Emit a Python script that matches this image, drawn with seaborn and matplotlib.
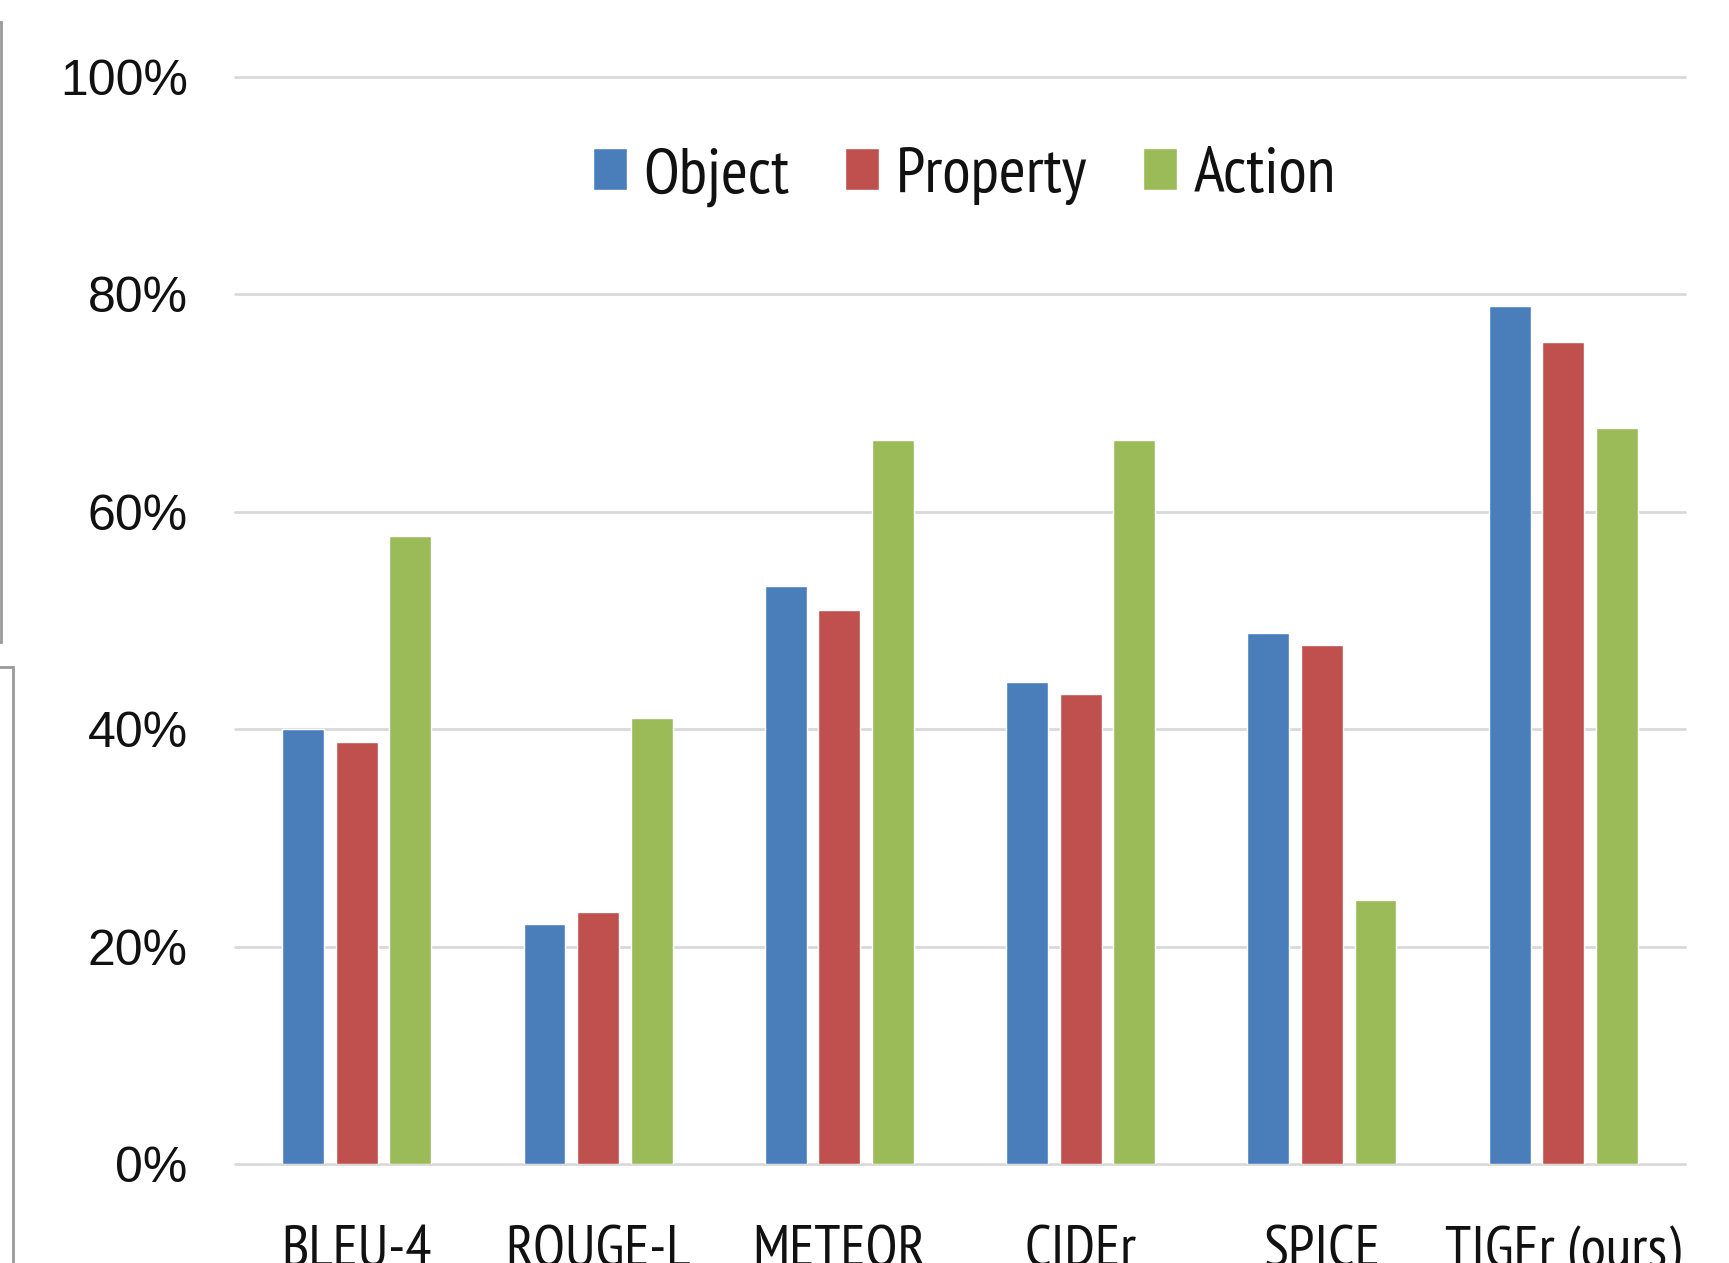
import matplotlib
matplotlib.use("Agg")
import matplotlib.pyplot as plt
from matplotlib.patches import Rectangle
from matplotlib.ticker import FuncFormatter
import pandas as pd
import seaborn as sns

metrics = ["BLEU-4", "ROUGE-L", "METEOR", "CIDEr", "SPICE", "TIGEr (ours)"]
object_vals = [40.0, 22.1, 53.2, 44.3, 48.8, 78.9]
property_vals = [38.8, 23.2, 51.0, 43.2, 47.7, 75.6]
action_vals = [57.8, 41.0, 66.6, 66.6, 24.3, 67.7]
series_names = ["Object", "Property", "Action"]
series_colors = ["#4a7ebb", "#c0504d", "#9bbb59"]
y_ticks = [0, 20, 40, 60, 80, 100]

df = pd.DataFrame({
    "metric": metrics * 3,
    "value": object_vals + property_vals + action_vals,
    "type": [s for s in series_names for _ in metrics],
})

sns.set_theme(style="white")
plt.rcParams["font.family"] = ["Liberation Sans", "DejaVu Sans"]
narrow = ["PT Sans Narrow", "DejaVu Sans"]

fig = plt.figure(figsize=(17.29, 12.63), dpi=100)
ax = fig.add_axes([0.1359, 0.0784, 0.8387, 0.8607])

sns.barplot(data=df, x="metric", y="value", hue="type", order=metrics,
            hue_order=series_names, palette=series_colors, saturation=1,
            width=0.666, gap=0.22, ax=ax, legend=True)

ax.set_ylim(0, 100)
ax.set_xlim(-0.505, 5.505)
ax.set_yticks(y_ticks)
ax.yaxis.set_major_formatter(FuncFormatter(lambda v, p: f"{v:.0f}%"))
ax.set_xlabel("")
ax.set_ylabel("")
ax.set_axisbelow(True)
ax.grid(axis="y", color="#d9d9d9", linewidth=2, clip_on=False)
ax.grid(axis="x", visible=False)
for s in ax.spines.values():
    s.set_visible(False)
ax.tick_params(axis="both", length=0)
ax.tick_params(axis="y", pad=34, labelsize=36, labelcolor="#111111")
ax.tick_params(axis="x", pad=44, labelcolor="#111111")
for lbl in ax.get_xticklabels():
    lbl.set_fontfamily(narrow)
    lbl.set_fontsize(42)

leg = ax.legend(loc="center", bbox_to_anchor=(0.503, 0.908), ncol=3, frameon=False,
                handlelength=0.52, handleheight=0.6, handletextpad=0.26,
                columnspacing=0.85,
                prop={"family": narrow, "size": 47})
for t in leg.get_texts():
    t.set_color("#111111")

# neighbouring panel frames at the left edge
fig.patches.append(Rectangle((-0.01, 1 - 642 / 1263), 0.0105, (642 - 22) / 1263,
                             transform=fig.transFigure, fill=False,
                             edgecolor="#9a9a9a", linewidth=2))
fig.patches.append(Rectangle((-0.01, -0.05), 0.0175, (1263 - 667) / 1263 + 0.05,
                             transform=fig.transFigure, fill=False,
                             edgecolor="#9a9a9a", linewidth=2))

fig.savefig("out.png", dpi=100, facecolor="white")
